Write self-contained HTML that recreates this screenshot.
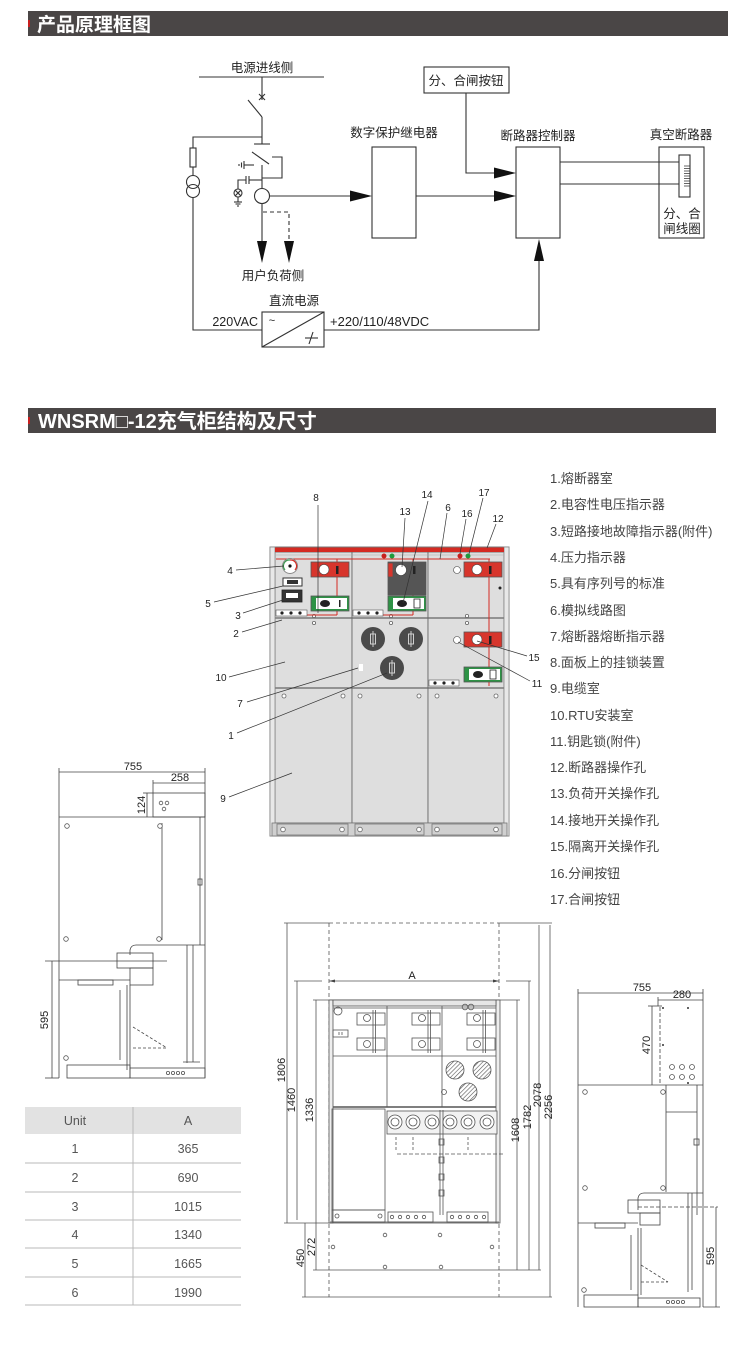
<!DOCTYPE html>
<html><head><meta charset="utf-8"><style>
html,body{margin:0;padding:0;background:#fff;}
svg{display:block;}
text{font-family:"Liberation Sans","Noto Sans CJK SC",sans-serif;}
</style></head><body>
<svg width="750" height="1348" viewBox="0 0 750 1348" xmlns="http://www.w3.org/2000/svg">
<defs>
<pattern id="hatch" width="3" height="3" patternUnits="userSpaceOnUse" patternTransform="rotate(45)">
<rect width="3" height="3" fill="#fff"/><line x1="0" y1="0" x2="0" y2="3" stroke="#555" stroke-width="1.2"/>
</pattern>
</defs>
<rect width="750" height="1348" fill="#fff"/>

<!-- ===== Header 1 ===== -->
<rect x="28" y="11" width="700" height="25" fill="#4a4646"/>
<rect x="28" y="20" width="2" height="7" fill="#c81e1e"/>
<text x="37" y="31" font-size="19" font-weight="bold" fill="#fff">产品原理框图</text>

<!-- ===== Block diagram ===== -->
<g stroke="#333" stroke-width="1.1" fill="none">
<line x1="199" y1="77" x2="324" y2="77"/>
<line x1="262" y1="77" x2="262" y2="100"/>
<path d="M259 94 L265 100 M265 94 L259 100"/>
<line x1="248" y1="100" x2="262" y2="117"/>
<line x1="262" y1="117" x2="262" y2="144"/>
<line x1="254" y1="144" x2="270" y2="144"/>
<polyline points="262,137 193,137 193,148"/>
<rect x="190" y="148" width="6" height="19"/>
<line x1="193" y1="167" x2="193" y2="175"/>
<circle cx="193" cy="182" r="6.5"/>
<circle cx="193" cy="191" r="6.5"/>
<polyline points="193,197.5 193,330 262,330"/>
<line x1="252" y1="152" x2="269" y2="164"/>
<polyline points="272,157 282,157 282,178 262,178"/>
<line x1="262" y1="165" x2="262" y2="188"/>
<line x1="244" y1="165" x2="254" y2="165"/>
<line x1="244" y1="161" x2="244" y2="169"/>
<line x1="241.5" y1="162.5" x2="241.5" y2="167.5"/>
<line x1="239" y1="164" x2="239" y2="166"/>
<line x1="249" y1="180" x2="262" y2="180"/>
<line x1="249" y1="176" x2="249" y2="184"/>
<line x1="246" y1="176" x2="246" y2="184"/>
<polyline points="246,180 238,180 238,189"/>
<circle cx="238" cy="193" r="4"/>
<path d="M235.2 190.2 L240.8 195.8 M240.8 190.2 L235.2 195.8"/>
<line x1="238" y1="197" x2="238" y2="202"/>
<line x1="234" y1="202" x2="242" y2="202"/>
<line x1="235.5" y1="204" x2="240.5" y2="204"/>
<line x1="237" y1="206" x2="239" y2="206"/>
<circle cx="262" cy="196" r="7.5"/>
<line x1="269.5" y1="196" x2="352" y2="196"/>
<line x1="262" y1="203.5" x2="262" y2="242"/>
<polyline points="263,212 289,212 289,242" stroke-dasharray="4,3"/>
<rect x="372" y="147" width="44" height="91"/>
<rect x="516" y="147" width="44" height="91"/>
<rect x="659" y="147" width="45" height="91"/>
<rect x="424" y="67" width="85" height="26"/>
<polyline points="466,93 466,173 496,173"/>
<line x1="416" y1="196" x2="496" y2="196"/>
<polyline points="324,330 539,330 539,260"/>
<line x1="560" y1="162" x2="679" y2="162"/>
<line x1="560" y1="184" x2="679" y2="184"/>
<rect x="679" y="155" width="11" height="42" fill="#fff"/>
<path d="M684 166 H690 M684 168.5 H690 M684 171 H690 M684 173.5 H690 M684 176 H690 M684 178.5 H690 M684 181 H690 M684 183.5 H690 M684 186 H690" stroke-width="0.7"/>
<rect x="262" y="312" width="62" height="35"/>
<line x1="262" y1="347" x2="324" y2="312"/>
<line x1="305" y1="338" x2="318" y2="338"/>
<line x1="313" y1="332" x2="309" y2="344"/>
</g>
<g fill="#111">
<polygon points="372,196 350,190.5 350,201.5"/>
<polygon points="516,173 494,167.5 494,178.5"/>
<polygon points="516,196 494,190.5 494,201.5"/>
<polygon points="262,263 257,241 267,241"/>
<polygon points="289,263 284,241 294,241"/>
<polygon points="539,239 534,261 544,261"/>
</g>
<g font-size="12.5" fill="#222" text-anchor="middle">
<text x="262" y="72">电源进线侧</text>
<text x="466" y="85">分、合闸按钮</text>
<text x="394" y="137">数字保护继电器</text>
<text x="538" y="140">断路器控制器</text>
<text x="681" y="139">真空断路器</text>
<text x="682" y="218">分、合</text>
<text x="682" y="233">闸线圈</text>
<text x="273" y="280">用户负荷侧</text>
<text x="294" y="305">直流电源</text>
<text x="272" y="324" font-size="11">~</text>
</g>
<text x="258" y="326" font-size="12.5" fill="#222" text-anchor="end">220VAC</text>
<text x="330" y="326" font-size="13" fill="#222">+220/110/48VDC</text>

<!-- ===== Header 2 ===== -->
<rect x="28" y="408" width="688" height="25" fill="#4a4646"/>
<rect x="28" y="417" width="2" height="7" fill="#c81e1e"/>
<text x="38" y="428" font-size="20" font-weight="bold" fill="#fff">WNSRM□-12充气柜结构及尺寸</text>

<!-- ===== Front cabinet (colored) ===== -->
<g>
<rect x="270" y="547" width="239" height="289" fill="#d6d6d6" stroke="#777" stroke-width="1"/>
<g fill="#dedede" stroke="#6a6a6a" stroke-width="0.9">
<rect x="275" y="552" width="77" height="66"/>
<rect x="352" y="552" width="76" height="66"/>
<rect x="428" y="552" width="76" height="66"/>
<rect x="275" y="618" width="77" height="70"/>
<rect x="352" y="618" width="76" height="70"/>
<rect x="428" y="618" width="76" height="70"/>
<rect x="275" y="688" width="77" height="135"/>
<rect x="352" y="688" width="76" height="135"/>
<rect x="428" y="688" width="76" height="135"/>
</g>
<line x1="275" y1="618" x2="505" y2="618" stroke="#666" stroke-width="1.3"/>
<line x1="275" y1="688" x2="505" y2="688" stroke="#666" stroke-width="1.3"/>
<rect x="270" y="547" width="5" height="289" fill="#e8e8e8" stroke="#888" stroke-width="0.8"/>
<rect x="504" y="547" width="5" height="289" fill="#e8e8e8" stroke="#888" stroke-width="0.8"/>
<rect x="275" y="547.5" width="229" height="4.5" fill="#d42a22"/>
<line x1="275" y1="555" x2="504" y2="555" stroke="#aaa" stroke-width="0.6"/>
<g fill="#d0d0d0" stroke="#777" stroke-width="0.8">
<rect x="272" y="823" width="235" height="13"/>
<rect x="277" y="824" width="71" height="11"/>
<rect x="355" y="824" width="69" height="11"/>
<rect x="432" y="824" width="70" height="11"/>
</g>
<g fill="#fff" stroke="#666" stroke-width="0.8">
<circle cx="283" cy="829.5" r="2.3"/><circle cx="342" cy="829.5" r="2.3"/>
<circle cx="360" cy="829.5" r="2.3"/><circle cx="419" cy="829.5" r="2.3"/>
<circle cx="437" cy="829.5" r="2.3"/><circle cx="496" cy="829.5" r="2.3"/>
<circle cx="284" cy="696" r="2"/><circle cx="343" cy="696" r="2"/>
<circle cx="360" cy="696" r="2"/><circle cx="419" cy="696" r="2"/>
<circle cx="437" cy="696" r="2"/><circle cx="496" cy="696" r="2"/>
<circle cx="314" cy="616" r="1.6"/><circle cx="314" cy="623" r="1.6"/>
<circle cx="391" cy="616" r="1.6"/><circle cx="391" cy="623" r="1.6"/>
<circle cx="467" cy="616" r="1.6"/><circle cx="467" cy="623" r="1.6"/>
</g>
<!-- mimic red lines -->
<g stroke="#d42a22" stroke-width="1" fill="none">
<line x1="276" y1="559" x2="490" y2="559"/>
<line x1="337" y1="559" x2="337" y2="615"/>
<line x1="413" y1="559" x2="413" y2="615"/>
<line x1="489" y1="559" x2="489" y2="686"/>
<line x1="307" y1="615" x2="337" y2="615"/>
<line x1="383" y1="615" x2="413" y2="615"/>
</g>
<!-- gauge -->
<circle cx="290" cy="566" r="7.5" fill="#fff" stroke="#888" stroke-width="0.9"/>
<path d="M285 570 A6 6 0 0 1 290 560" stroke="#3a9a50" stroke-width="1.2" fill="none"/>
<path d="M290 560 A6 6 0 0 1 295 570" stroke="#d42a22" stroke-width="1.2" fill="none"/>
<circle cx="290" cy="566" r="1.6" fill="#111"/>
<rect x="283" y="578" width="19" height="8" fill="#fff" stroke="#333" stroke-width="1"/>
<rect x="287" y="580" width="11" height="4" fill="#333"/>
<rect x="282" y="590" width="20" height="12" fill="#333" stroke="#222" stroke-width="0.8"/>
<rect x="286" y="593" width="12" height="5" fill="#fff"/>
<!-- red boxes -->
<g stroke="#555" stroke-width="0.8">
<rect x="311" y="562" width="38" height="15" fill="#d7352c"/>
<rect x="464" y="562" width="38" height="15" fill="#d7352c"/>
<rect x="464" y="632" width="38" height="15" fill="#d7352c"/>
<rect x="388" y="562" width="38" height="33" fill="#555"/>
<rect x="388" y="563" width="5" height="14" fill="#d7352c"/>
<rect x="311" y="596" width="38" height="15" fill="#2e9346"/>
<rect x="388" y="596" width="38" height="15" fill="#2e9346"/>
<rect x="464" y="667" width="38" height="15" fill="#2e9346"/>
</g>
<g fill="#fff" stroke="#444" stroke-width="0.6">
<circle cx="324" cy="569.5" r="5"/>
<circle cx="401" cy="570" r="5.5"/>
<circle cx="477" cy="569.5" r="5"/>
<circle cx="477" cy="639.5" r="5"/>
<rect x="316" y="598" width="31" height="11" stroke="none"/>
<rect x="393" y="598" width="31" height="11" stroke="none"/>
<rect x="469" y="669" width="31" height="11" stroke="none"/>
<circle cx="457" cy="570" r="3.5"/>
<circle cx="457" cy="640" r="3.5"/>
</g>
<g fill="#222">
<rect x="336" y="566" width="2.5" height="8"/>
<rect x="413" y="566" width="2.5" height="8"/>
<rect x="489" y="566" width="2.5" height="8"/>
<rect x="489" y="636" width="2.5" height="8"/>
<ellipse cx="325" cy="603.5" rx="5" ry="3.5"/>
<ellipse cx="402" cy="603.5" rx="5" ry="3.5"/>
<ellipse cx="478" cy="674.5" rx="5" ry="3.5"/>
<rect x="339" y="600" width="1.5" height="7"/>
<rect x="414" y="599" width="6" height="9" fill="none" stroke="#222" stroke-width="0.8"/>
<rect x="490" y="670" width="6" height="9" fill="none" stroke="#222" stroke-width="0.8"/>
<circle cx="500" cy="588" r="1.5"/>
</g>
<!-- red/green dots -->
<circle cx="384" cy="556" r="2.5" fill="#c8201e"/>
<circle cx="392" cy="556" r="2.5" fill="#1e9a3c"/>
<circle cx="460" cy="556" r="2.5" fill="#c8201e"/>
<circle cx="468" cy="556" r="2.5" fill="#1e9a3c"/>
<!-- indicator strips -->
<g>
<rect x="276" y="610" width="31" height="6" fill="#fff" stroke="#555" stroke-width="0.6"/>
<rect x="353" y="610" width="30" height="6" fill="#fff" stroke="#555" stroke-width="0.6"/>
<rect x="429" y="680" width="30" height="6" fill="#fff" stroke="#555" stroke-width="0.6"/>
<g fill="#222">
<circle cx="282" cy="613" r="1.6"/><circle cx="291" cy="613" r="1.6"/><circle cx="300" cy="613" r="1.6"/>
<circle cx="359" cy="613" r="1.6"/><circle cx="368" cy="613" r="1.6"/><circle cx="377" cy="613" r="1.6"/>
<circle cx="435" cy="683" r="1.6"/><circle cx="444" cy="683" r="1.6"/><circle cx="453" cy="683" r="1.6"/>
</g>
</g>
<!-- fuse circles -->
<g>
<circle cx="373" cy="639" r="12" fill="#4a4a4a"/>
<circle cx="411" cy="639" r="12" fill="#4a4a4a"/>
<circle cx="392" cy="668" r="12" fill="#4a4a4a"/>
<g stroke="#ddd" stroke-width="0.9" fill="none">
<rect x="370.5" y="634" width="5" height="10"/><line x1="373" y1="631" x2="373" y2="647"/>
<rect x="408.5" y="634" width="5" height="10"/><line x1="411" y1="631" x2="411" y2="647"/>
<rect x="389.5" y="663" width="5" height="10"/><line x1="392" y1="660" x2="392" y2="676"/>
</g>
</g>
<rect x="359" y="664" width="4" height="7" fill="#fff"/>
</g>
<!-- leaders -->
<g stroke="#333" stroke-width="0.7">
<line x1="318" y1="505" x2="318" y2="613"/>
<line x1="428" y1="501" x2="403" y2="603"/>
<line x1="405" y1="518" x2="402" y2="567"/>
<line x1="447" y1="513" x2="440" y2="559"/>
<line x1="466" y1="519" x2="460" y2="554"/>
<line x1="483" y1="498" x2="469" y2="554"/>
<line x1="496" y1="524" x2="487" y2="548"/>
<line x1="236" y1="570" x2="284" y2="566"/>
<line x1="214" y1="602" x2="283" y2="586"/>
<line x1="243" y1="613" x2="283" y2="600"/>
<line x1="242" y1="632" x2="282" y2="620"/>
<line x1="229" y1="677" x2="285" y2="662"/>
<line x1="247" y1="702" x2="358" y2="668"/>
<line x1="237" y1="733" x2="387" y2="673"/>
<line x1="229" y1="797" x2="292" y2="773"/>
<line x1="477" y1="641" x2="527" y2="656"/>
<line x1="458" y1="642" x2="530" y2="681"/>
</g>
<g font-size="10" fill="#222" text-anchor="middle">
<text x="316" y="501">8</text>
<text x="427" y="498">14</text>
<text x="405" y="515">13</text>
<text x="448" y="511">6</text>
<text x="467" y="517">16</text>
<text x="484" y="496">17</text>
<text x="498" y="522">12</text>
<text x="230" y="574">4</text>
<text x="208" y="607">5</text>
<text x="238" y="619">3</text>
<text x="236" y="637">2</text>
<text x="221" y="681">10</text>
<text x="240" y="707">7</text>
<text x="231" y="739">1</text>
<text x="223" y="802">9</text>
<text x="534" y="661">15</text>
<text x="537" y="687">11</text>
</g>

<!-- ===== Legend ===== -->
<g font-size="13" fill="#444">
<text x="550" y="483">1.熔断器室</text>
<text x="550" y="509">2.电容性电压指示器</text>
<text x="550" y="536">3.短路接地故障指示器(附件)</text>
<text x="550" y="562">4.压力指示器</text>
<text x="550" y="588">5.具有序列号的标准</text>
<text x="550" y="615">6.模拟线路图</text>
<text x="550" y="641">7.熔断器熔断指示器</text>
<text x="550" y="667">8.面板上的挂锁装置</text>
<text x="550" y="693">9.电缆室</text>
<text x="550" y="720">10.RTU安装室</text>
<text x="550" y="746">11.钥匙锁(附件)</text>
<text x="550" y="772">12.断路器操作孔</text>
<text x="550" y="798">13.负荷开关操作孔</text>
<text x="550" y="825">14.接地开关操作孔</text>
<text x="550" y="851">15.隔离开关操作孔</text>
<text x="550" y="878">16.分闸按钮</text>
<text x="550" y="904">17.合闸按钮</text>
</g>

<!-- ===== Left side view ===== -->
<g stroke="#444" stroke-width="0.8" fill="none">
<line x1="59" y1="768" x2="59" y2="1078"/>
<line x1="205" y1="768" x2="205" y2="1078"/>
<line x1="59" y1="772" x2="205" y2="772"/>
<line x1="153" y1="780" x2="153" y2="793"/>
<line x1="153" y1="783" x2="205" y2="783"/>
<rect x="153" y="793" width="52" height="24"/>
<line x1="143" y1="793" x2="153" y2="793"/>
<line x1="147" y1="793" x2="147" y2="817"/>
<line x1="59" y1="817" x2="205" y2="817"/>
<line x1="200" y1="817" x2="200" y2="945"/>
<line x1="162" y1="823" x2="162" y2="940"/>
<rect x="198" y="879" width="4" height="6"/>
<line x1="45" y1="961" x2="167" y2="961"/>
<line x1="52" y1="961" x2="52" y2="1078"/>
<line x1="45" y1="1078" x2="59" y2="1078"/>
<line x1="59" y1="980" x2="130" y2="980"/>
<rect x="78" y="980" width="35" height="5"/>
<path d="M130 955 V950 Q131 945 136 945 H187 V1063 M193 945 V1062 M185 945 H205"/>
<rect x="117" y="953" width="36" height="15"/>
<rect x="130" y="968" width="23" height="17"/>
<line x1="130" y1="985" x2="130" y2="1070"/>
<line x1="127" y1="985" x2="127" y2="1070"/>
<line x1="120" y1="990" x2="120" y2="1060"/>
<path d="M133 1027 L167 1048 M133 1048 H167" stroke-dasharray="3,2"/>
<rect x="67" y="1065" width="63" height="13"/>
<rect x="130" y="1068" width="75" height="10"/>
<line x1="183" y1="1062" x2="200" y2="1062"/>
</g>
<g fill="#fff" stroke="#555" stroke-width="0.8">
<circle cx="67" cy="826" r="2.3"/><circle cx="160" cy="826" r="2.3"/>
<circle cx="66" cy="939" r="2.3"/><circle cx="159" cy="939" r="2.3"/>
<circle cx="66" cy="1058" r="2.3"/>
<circle cx="161" cy="803" r="1.8"/><circle cx="167" cy="803" r="1.8"/><circle cx="164" cy="809" r="1.8"/>
<circle cx="168" cy="1073" r="1.6"/><circle cx="173" cy="1073" r="1.6"/><circle cx="178" cy="1073" r="1.6"/><circle cx="183" cy="1073" r="1.6"/>
</g>
<g font-size="11" fill="#222" text-anchor="middle">
<text x="133" y="770">755</text>
<text x="180" y="781">258</text>
<text transform="translate(145,805) rotate(-90)">124</text>
<text transform="translate(48,1020) rotate(-90)">595</text>
</g>

<!-- ===== Table ===== -->
<rect x="25" y="1107" width="216" height="27" fill="#e2e2e2"/>
<g stroke="#b8b8b8" stroke-width="1">
<line x1="133" y1="1107" x2="133" y2="1305"/>
<line x1="25" y1="1163" x2="241" y2="1163"/>
<line x1="25" y1="1192" x2="241" y2="1192"/>
<line x1="25" y1="1220" x2="241" y2="1220"/>
<line x1="25" y1="1248" x2="241" y2="1248"/>
<line x1="25" y1="1277" x2="241" y2="1277"/>
<line x1="25" y1="1305" x2="241" y2="1305"/>
</g>
<g font-size="12.5" fill="#555" text-anchor="middle">
<text x="75" y="1125">Unit</text><text x="188" y="1125">A</text>
<text x="75" y="1153">1</text><text x="188" y="1153">365</text>
<text x="75" y="1182">2</text><text x="188" y="1182">690</text>
<text x="75" y="1211">3</text><text x="188" y="1211">1015</text>
<text x="75" y="1239">4</text><text x="188" y="1239">1340</text>
<text x="75" y="1268">5</text><text x="188" y="1268">1665</text>
<text x="75" y="1297">6</text><text x="188" y="1297">1990</text>
</g>

<!-- ===== Front dimension drawing ===== -->
<g stroke="#555" stroke-width="0.8" fill="none">
<line x1="329" y1="923" x2="329" y2="1297" stroke-dasharray="4,3"/>
<line x1="499" y1="923" x2="499" y2="1297" stroke-dasharray="4,3"/>
<line x1="329" y1="923" x2="499" y2="923" stroke-dasharray="4,3"/>
<line x1="284" y1="923" x2="329" y2="923"/>
<line x1="499" y1="923" x2="552" y2="923"/>
<line x1="287" y1="923" x2="287" y2="1223"/>
<line x1="297" y1="981" x2="297" y2="1220"/>
<line x1="316" y1="1000" x2="316" y2="1270"/>
<line x1="305" y1="1223" x2="305" y2="1297"/>
<line x1="294" y1="981" x2="322" y2="981"/>
<line x1="329" y1="981" x2="499" y2="981"/>
<line x1="506" y1="981" x2="531" y2="981"/>
<line x1="313" y1="1000" x2="520" y2="1000"/>
<line x1="284" y1="1223" x2="330" y2="1223"/>
<line x1="313" y1="1270" x2="541" y2="1270"/>
<line x1="302" y1="1297" x2="552" y2="1297"/>
<line x1="517" y1="1000" x2="517" y2="1270"/>
<line x1="529" y1="981" x2="529" y2="1270"/>
<line x1="539" y1="925" x2="539" y2="1270"/>
<line x1="550" y1="925" x2="550" y2="1297"/>
</g>
<g fill="#444">
<polygon points="329,981 335,979.5 335,982.5"/>
<polygon points="499,981 493,979.5 493,982.5"/>
</g>
<g font-size="11" fill="#222" text-anchor="middle">
<text x="412" y="979">A</text>
<text transform="translate(285,1070) rotate(-90)">1806</text>
<text transform="translate(295,1100) rotate(-90)">1460</text>
<text transform="translate(313,1110) rotate(-90)">1336</text>
<text transform="translate(315,1247) rotate(-90)">272</text>
<text transform="translate(304,1258) rotate(-90)">450</text>
<text transform="translate(519,1130) rotate(-90)">1608</text>
<text transform="translate(531,1117) rotate(-90)">1782</text>
<text transform="translate(541,1095) rotate(-90)">2078</text>
<text transform="translate(552,1107) rotate(-90)">2256</text>
</g>
<!-- cabinet body -->
<g stroke="#555" stroke-width="0.8" fill="none">
<rect x="330" y="1000" width="169" height="223" fill="#fff"/>
<rect x="329" y="1000" width="4" height="223" fill="#eee"/>
<rect x="496" y="1000" width="4" height="223" fill="#eee"/>
<rect x="333" y="1000" width="163" height="6" fill="#e6e6e6"/>
<line x1="333" y1="1008" x2="496" y2="1008"/>
<line x1="387" y1="1006" x2="387" y2="1107"/>
<line x1="442" y1="1006" x2="442" y2="1107"/>
<line x1="333" y1="1056" x2="496" y2="1056"/>
<line x1="333" y1="1107" x2="496" y2="1107" stroke-width="1.5"/>
<circle cx="338" cy="1011" r="4"/>
<rect x="333" y="1030" width="15" height="7"/>
<path d="M339 1032 V1035 M342 1032 V1035"/>
<rect x="357" y="1013" width="28" height="12"/><circle cx="367" cy="1018" r="3.5"/>
<rect x="357" y="1038" width="28" height="12"/><circle cx="367" cy="1044" r="3.5"/>
<rect x="412" y="1013" width="28" height="12"/><circle cx="422" cy="1018" r="3.5"/>
<rect x="412" y="1038" width="28" height="12"/><circle cx="422" cy="1044" r="3.5"/>
<rect x="467" y="1013" width="28" height="12"/><circle cx="477" cy="1018" r="3.5"/>
<rect x="467" y="1038" width="28" height="12"/><circle cx="477" cy="1044" r="3.5"/>
<path d="M373 1010 V1053 M375.5 1010 V1053 M428 1010 V1053 M430.5 1010 V1053 M483 1010 V1053 M485.5 1010 V1053"/>
<circle cx="465" cy="1007" r="2.8"/><circle cx="471" cy="1007" r="2.8"/>
<circle cx="455" cy="1070" r="9" fill="url(#hatch)"/>
<circle cx="482" cy="1070" r="9" fill="url(#hatch)"/>
<circle cx="468" cy="1092" r="9" fill="url(#hatch)"/>
<circle cx="444" cy="1092" r="2.5"/>
<rect x="332" y="1109" width="53" height="101"/>
<rect x="332" y="1210" width="53" height="12"/>
<circle cx="337" cy="1216" r="2"/><circle cx="380" cy="1216" r="2"/>
<rect x="387" y="1111" width="110" height="23" fill="#f2f2f2"/>
<line x1="440" y1="1110" x2="440" y2="1215"/>
<line x1="443" y1="1110" x2="443" y2="1215"/>
<rect x="439" y="1139" width="5" height="6"/><rect x="439" y="1157" width="5" height="6"/>
<rect x="439" y="1174" width="5" height="6"/><rect x="439" y="1190" width="5" height="6"/>
<path d="M396 1137 V1152 M413 1137 V1152 M468 1137 V1152" stroke-dasharray="3,2"/>
<line x1="397" y1="1154" x2="505" y2="1154" stroke-dasharray="4,2"/>
<rect x="388" y="1212" width="45" height="10"/>
<rect x="447" y="1212" width="41" height="10"/>
<line x1="330" y1="1222" x2="499" y2="1222"/>
</g>
<g fill="#fff" stroke="#555" stroke-width="0.8">
<circle cx="395" cy="1122" r="7"/><circle cx="413" cy="1122" r="7"/><circle cx="432" cy="1122" r="7"/>
<circle cx="450" cy="1122" r="7"/><circle cx="468" cy="1122" r="7"/><circle cx="487" cy="1122" r="7"/>
<circle cx="395" cy="1122" r="4"/><circle cx="413" cy="1122" r="4"/><circle cx="432" cy="1122" r="4"/>
<circle cx="450" cy="1122" r="4"/><circle cx="468" cy="1122" r="4"/><circle cx="487" cy="1122" r="4"/>
<circle cx="392" cy="1217" r="1.7"/><circle cx="400" cy="1217" r="1.7"/><circle cx="408" cy="1217" r="1.7"/><circle cx="416" cy="1217" r="1.7"/><circle cx="424" cy="1217" r="1.7"/>
<circle cx="452" cy="1217" r="1.7"/><circle cx="460" cy="1217" r="1.7"/><circle cx="468" cy="1217" r="1.7"/><circle cx="476" cy="1217" r="1.7"/><circle cx="484" cy="1217" r="1.7"/>
<circle cx="333" cy="1247" r="1.8"/><circle cx="385" cy="1235" r="1.8"/><circle cx="440" cy="1235" r="1.8"/>
<circle cx="492" cy="1247" r="1.8"/><circle cx="385" cy="1267" r="1.8"/><circle cx="441" cy="1267" r="1.8"/>
</g>

<!-- ===== Right side view ===== -->
<g stroke="#444" stroke-width="0.8" fill="none">
<line x1="578" y1="989" x2="578" y2="1307"/>
<line x1="703" y1="989" x2="703" y2="1307"/>
<line x1="578" y1="993" x2="703" y2="993"/>
<line x1="658" y1="997" x2="658" y2="1006"/>
<line x1="658" y1="1000" x2="703" y2="1000"/>
<line x1="648" y1="1006" x2="662" y2="1006"/>
<line x1="652" y1="1006" x2="652" y2="1085"/>
<line x1="660" y1="1007" x2="660" y2="1085" stroke-dasharray="4,2"/>
<line x1="578" y1="1085" x2="703" y2="1085"/>
<line x1="666" y1="1085" x2="666" y2="1192"/>
<line x1="666" y1="1112" x2="697" y2="1112"/>
<line x1="697" y1="1085" x2="697" y2="1215"/>
<rect x="694" y="1139" width="5" height="6"/>
<line x1="578" y1="1223" x2="638" y2="1223"/>
<rect x="595" y="1223" width="30" height="5"/>
<path d="M638 1210 V1198 Q639 1193 644 1193 H688 V1292 M692 1193 V1290 M684 1193 H703"/>
<rect x="628" y="1200" width="32" height="13"/>
<rect x="640" y="1213" width="20" height="12"/>
<line x1="638" y1="1228" x2="638" y2="1295"/>
<line x1="641" y1="1228" x2="641" y2="1295"/>
<line x1="631" y1="1235" x2="631" y2="1290"/>
<path d="M641 1265 L668 1282 M641 1282 H668" stroke-dasharray="3,2"/>
<line x1="638" y1="1207" x2="718" y2="1207" stroke-dasharray="4,2"/>
<line x1="716" y1="1207" x2="716" y2="1307"/>
<line x1="703" y1="1307" x2="720" y2="1307"/>
<rect x="584" y="1295" width="54" height="12"/>
<rect x="638" y="1298" width="62" height="9"/>
</g>
<g fill="#fff" stroke="#555" stroke-width="0.8">
<circle cx="672" cy="1067" r="2.5"/><circle cx="682" cy="1067" r="2.5"/><circle cx="692" cy="1067" r="2.5"/>
<circle cx="672" cy="1077" r="2.5"/><circle cx="682" cy="1077" r="2.5"/><circle cx="692" cy="1077" r="2.5"/>
<circle cx="585" cy="1092" r="2.3"/><circle cx="663" cy="1092" r="2.3"/>
<circle cx="585" cy="1188" r="2.3"/><circle cx="663" cy="1188" r="2.3"/>
<circle cx="584" cy="1290" r="2.3"/>
<circle cx="668" cy="1302" r="1.6"/><circle cx="673" cy="1302" r="1.6"/><circle cx="678" cy="1302" r="1.6"/><circle cx="683" cy="1302" r="1.6"/>
</g>
<g fill="#333"><circle cx="663" cy="1008" r="1"/><circle cx="688" cy="1008" r="1"/><circle cx="663" cy="1045" r="1"/><circle cx="688" cy="1083" r="1"/></g>
<g font-size="11" fill="#222" text-anchor="middle">
<text x="642" y="991">755</text>
<text x="682" y="998">280</text>
<text transform="translate(650,1045) rotate(-90)">470</text>
<text transform="translate(714,1256) rotate(-90)">595</text>
</g>
</svg>
</body></html>
